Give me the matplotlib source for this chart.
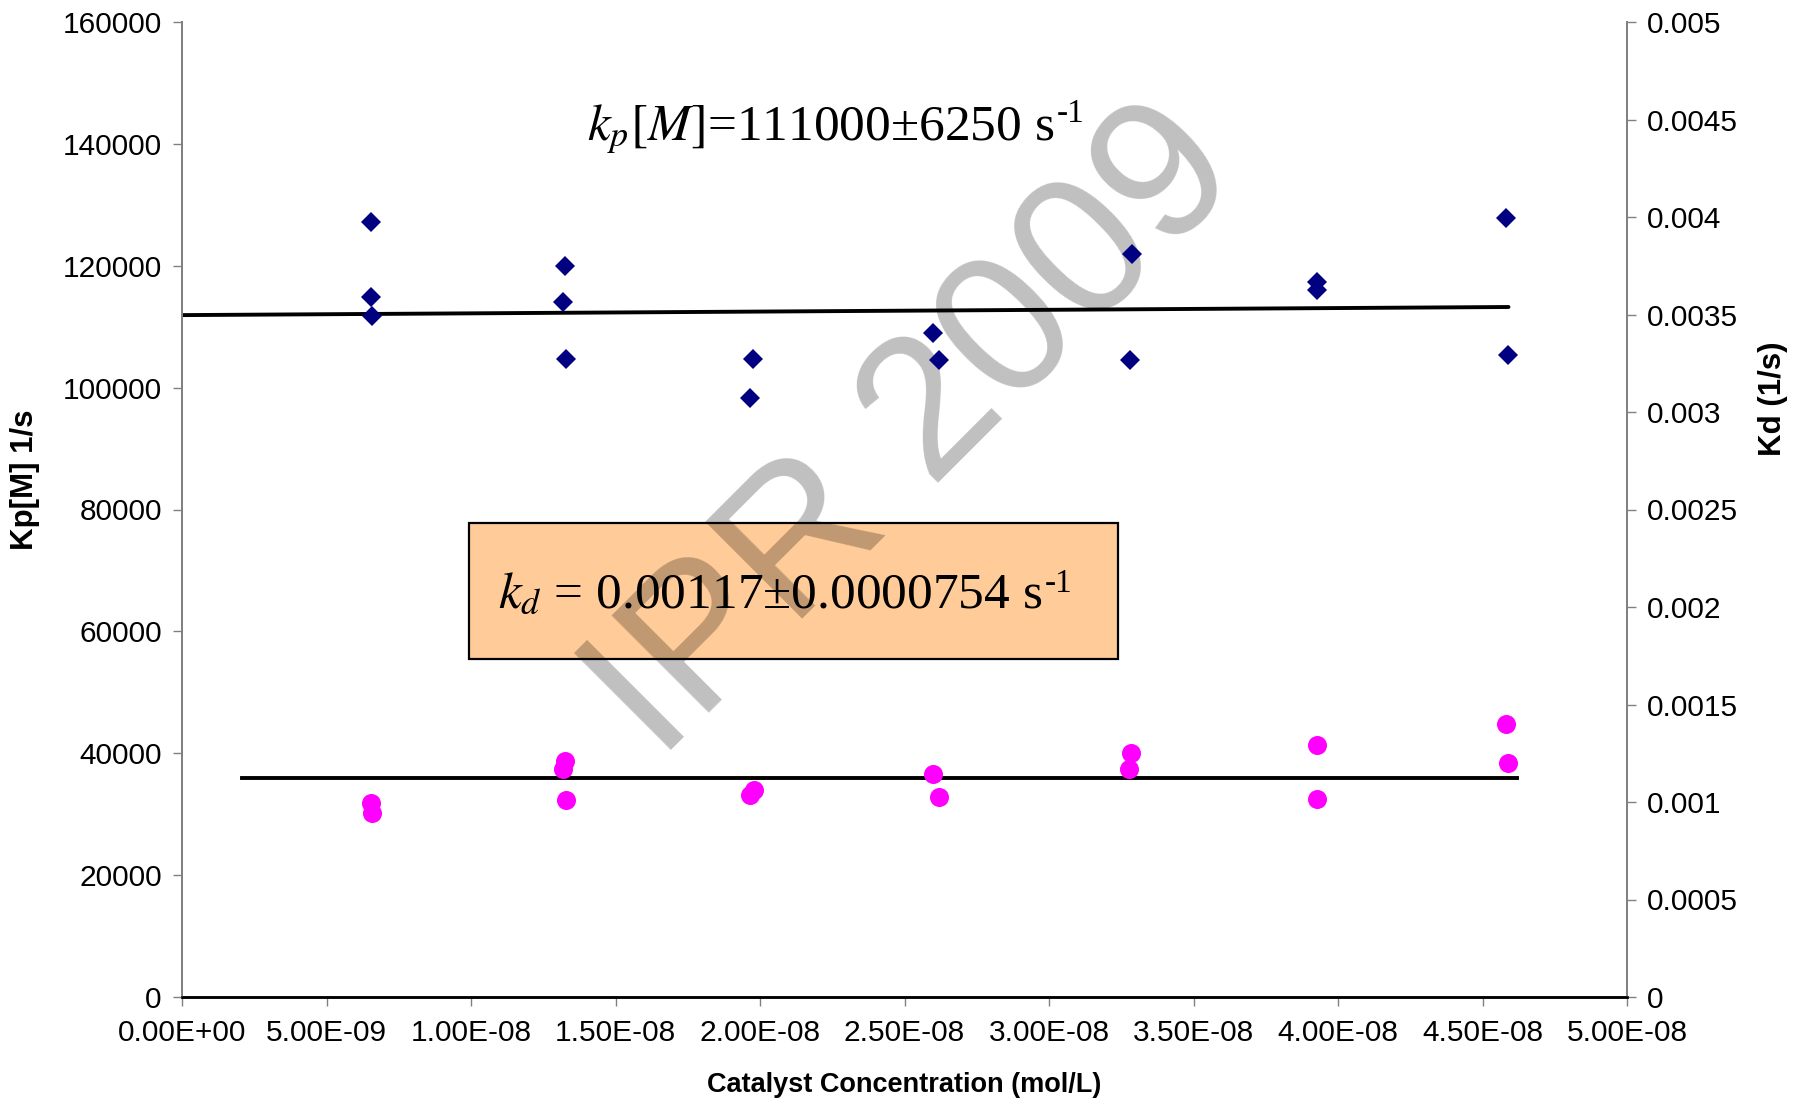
import numpy as np
import matplotlib
matplotlib.use('Agg')
import matplotlib.pyplot as plt
from matplotlib.patches import Rectangle

plt.rcParams['font.family'] = ['Liberation Sans', 'DejaVu Sans']
plt.rcParams['mathtext.fontset'] = 'stix'

# ---- data ----
kp_x = [6.54e-9, 6.54e-9, 6.57e-9, 1.325e-8, 1.318e-8, 1.329e-8,
        1.976e-8, 1.965e-8, 2.597e-8, 2.62e-8, 3.286e-8, 3.279e-8,
        3.928e-8, 3.928e-8, 4.58e-8, 4.588e-8]
kp_y = [127130, 114820, 111750, 119960, 114000, 104650,
        104650, 98350, 109000, 104530, 121930, 104530,
        117400, 116020, 127790, 105350]

kd_x = [6.54e-9, 6.57e-9, 1.325e-8, 1.318e-8, 1.33e-8,
        1.979e-8, 1.965e-8, 2.597e-8, 2.618e-8, 3.285e-8, 3.278e-8,
        3.926e-8, 3.929e-8, 4.581e-8, 4.588e-8]
kd_y = [0.000993, 0.000945, 0.001210, 0.001168, 0.001010,
        0.001062, 0.001036, 0.001142, 0.001028, 0.001253, 0.001168,
        0.001292, 0.001017, 0.001398, 0.001200]

kp_fit_x = [0.0, 4.59e-8]
kp_fit_y = [111900, 113230]
kd_fit_x = [2.07e-9, 4.62e-8]
kd_fit_y = [0.0011215, 0.0011215]

x_ticks = [0, 5e-9, 1e-8, 1.5e-8, 2e-8, 2.5e-8, 3e-8, 3.5e-8, 4e-8, 4.5e-8, 5e-8]
x_labels = ['0.00E+00', '5.00E-09', '1.00E-08', '1.50E-08', '2.00E-08', '2.50E-08',
            '3.00E-08', '3.50E-08', '4.00E-08', '4.50E-08', '5.00E-08']
kp_ticks = [0, 20000, 40000, 60000, 80000, 100000, 120000, 140000, 160000]
kp_labels = ['0', '20000', '40000', '60000', '80000', '100000', '120000', '140000', '160000']
kd_ticks = [0, 0.0005, 0.001, 0.0015, 0.002, 0.0025, 0.003, 0.0035, 0.004, 0.0045, 0.005]
kd_labels = ['0', '0.0005', '0.001', '0.0015', '0.002', '0.0025', '0.003', '0.0035',
             '0.004', '0.0045', '0.005']

kp_text = r'$k_p[M]$=111000±6250 s'
kd_text = r'$k_d$ = 0.00117±0.0000754 s'
unit_sup = '-1'
watermark = 'IPR 2009'

# ---- figure ----
fig = plt.figure(figsize=(18.05, 11.03), dpi=100)
ax = fig.add_axes([182/1805, 1 - 997/1103, 1445/1805, 975/1103])
ax2 = ax.twinx()

ax.set_xlim(0, 5e-8)
ax.set_ylim(0, 160000)
ax2.set_ylim(0, 0.005)

# box for kd
ax.add_patch(Rectangle((0.1983, 0.3462), 0.6475 - 0.1983, 0.4866 - 0.3462,
                       transform=ax.transAxes, facecolor='#FFCC99',
                       edgecolor='black', lw=1.6, zorder=1))
t_kd = ax.text(0.2185, 0.399, kd_text, transform=ax.transAxes, ha='left', va='baseline',
               fontsize=37, family='Liberation Serif', zorder=1.2)
ax.annotate(unit_sup, xy=(1, 1), xycoords=t_kd, xytext=(2, 3), textcoords='offset points',
            ha='left', va='top', fontsize=24, family='Liberation Serif', zorder=1.2,
            annotation_clip=False)
t_kp = ax.text(0.2803, 0.879, kp_text, transform=ax.transAxes, ha='left', va='baseline',
               fontsize=37, family='Liberation Serif', zorder=1.2)
ax.annotate(unit_sup, xy=(1, 1), xycoords=t_kp, xytext=(2, 3), textcoords='offset points',
            ha='left', va='top', fontsize=24, family='Liberation Serif', zorder=1.2,
            annotation_clip=False)

# watermark
ax.text(0.507, 0.578, watermark, transform=ax.transAxes, ha='center', va='center',
        rotation=45, rotation_mode='anchor', fontsize=143, color='black', alpha=0.25,
        family='Liberation Sans', zorder=1.5)

ax.plot(kp_fit_x, kp_fit_y, color='black', lw=2.8, solid_capstyle='round', zorder=2)
ax.plot(kp_x, kp_y, linestyle='none', marker='D', ms=9.7, mew=0,
        color='#000080', zorder=3)
ax2.plot(kd_fit_x, kd_fit_y, color='black', lw=2.8, zorder=2)
ax2.plot(kd_x, kd_y, linestyle='none', marker='o', ms=13.7, mew=0,
         color='#FF00FF', zorder=3)

ax.set_xticks(x_ticks)
ax.set_xticklabels(x_labels)
ax.set_yticks(kp_ticks)
ax.set_yticklabels(kp_labels)
ax2.set_yticks(kd_ticks)
ax2.set_yticklabels(kd_labels)

for a in (ax, ax2):
    a.spines['top'].set_visible(False)
    a.spines['left'].set_color('#808080')
    a.spines['right'].set_color('#808080')
    a.spines['bottom'].set_color('black')
    a.spines['left'].set_linewidth(1.3)
    a.spines['right'].set_linewidth(1.3)
    a.spines['bottom'].set_linewidth(1.8)

ax.tick_params(axis='x', direction='out', length=6.5, width=1.0, color='#808080',
               labelsize=21.5, pad=9)
ax.tick_params(axis='y', direction='out', length=6.5, width=1.0, color='#808080',
               labelsize=21.5, pad=8)
ax2.tick_params(axis='y', direction='out', length=6.5, width=1.0, color='#808080',
                labelsize=21.5, pad=8)

ax.set_xlabel('Catalyst Concentration (mol/L)', fontsize=19.5, fontweight='bold',
              va='center')
ax.xaxis.set_label_coords(0.4997, -0.090)
ax.set_ylabel('Kp[M] 1/s', fontsize=22.5, fontweight='bold', va='center', ha='center')
ax.yaxis.set_label_coords(-0.1087, 0.531)
ax2.set_ylabel('Kd (1/s)', fontsize=22.5, fontweight='bold', rotation=90,
               va='center', ha='center')
ax2.yaxis.set_label_coords(1.101, 0.614)

fig.savefig('out.png', dpi=100)
